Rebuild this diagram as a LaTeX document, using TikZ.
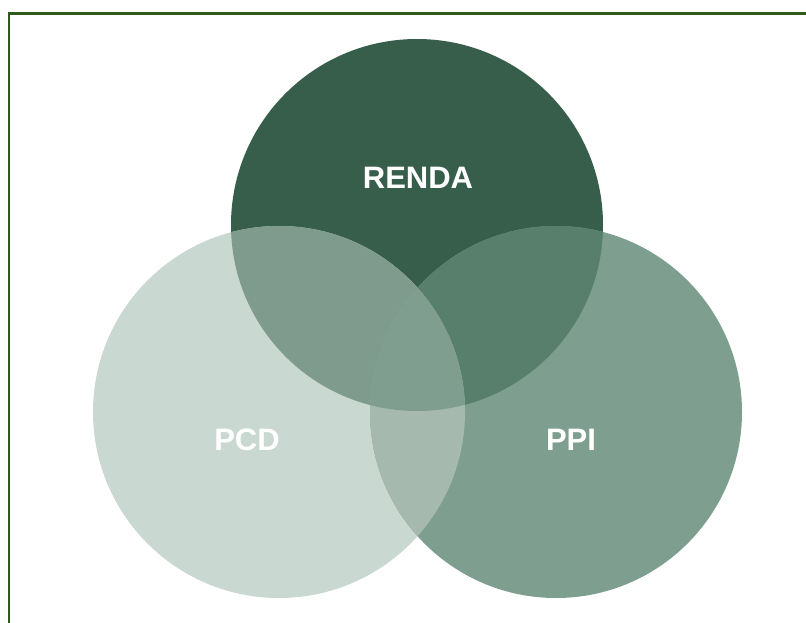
\documentclass[tikz,border=0pt]{standalone}
\usepackage{fontspec}
\setmainfont{Liberation Sans}
\definecolor{cTop}{HTML}{365E4B}
\definecolor{cLeft}{HTML}{C9D8D1}
\definecolor{cRight}{HTML}{7E9E90}
\definecolor{cTL}{HTML}{7F9B8D}
\definecolor{cTR}{HTML}{587F6C}
\definecolor{cLR}{HTML}{A5B9AF}
\definecolor{cAll}{HTML}{7F9E90}
\definecolor{frame}{HTML}{2E5A1E}
\begin{document}
\begin{tikzpicture}[x=1pt,y=-1pt,
  lbl/.style={text=white,font=\fontsize{31}{33}\selectfont\bfseries,inner sep=0pt}]
\useasboundingbox (0,0) rectangle (806,623);
\fill[white] (0,0) rectangle (806,623);
\def\T{(417,225) circle[radius=186]}
\def\L{(279,412) circle[radius=186]}
\def\R{(556,412) circle[radius=186]}
\fill[cTop] \T;
\fill[cLeft] \L;
\fill[cRight] \R;
\begin{scope}\clip \T; \fill[cTL] \L; \fill[cTR] \R; \end{scope}
\begin{scope}\clip \L; \fill[cLR] \R; \end{scope}
\begin{scope}\clip \T; \clip \L; \fill[cAll] \R; \end{scope}
\draw[frame,line width=2.6pt] (806,13.5) -- (9,13.5) -- (9,623);
\node[lbl] (renda) at (418,178) {RENDA};
\node[lbl] (pcd) at (247,440) {PCD};
\node[lbl] (ppi) at (571,440) {PPI};
\end{tikzpicture}
\end{document}
